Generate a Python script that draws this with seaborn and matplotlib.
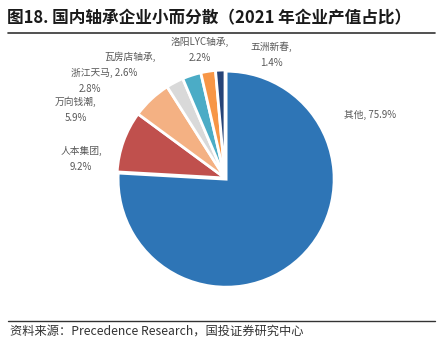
import matplotlib
matplotlib.use("Agg")
import matplotlib.pyplot as plt
import seaborn as sns

# data
companies = ["其他", "人本集团", "万向钱潮", "浙江天马", "瓦房店轴承", "洛阳LYC轴承", "五洲新春"]
shares = [75.9, 9.2, 5.9, 2.6, 2.8, 2.2, 1.4]
colors = ["#2E75B6", "#C0504D", "#F4B183", "#D9D9D9", "#4BACC6", "#F79646", "#264478"]

# label text as it appears (wrapped like the original)
label_texts = ["其他, 75.9%", "人本集团,\n9.2%", "万向钱潮,\n5.9%", "浙江天马, 2.6%",
               "瓦房店轴承,", "洛阳LYC轴承,\n2.2%", "五洲新春,\n1.4%"]
extra_texts = ["2.8%"]

sns.set_theme(style="white")
plt.rcParams["font.family"] = ["Noto Sans CJK SC", "DejaVu Sans"]

W, H = 445, 352
fig = plt.figure(figsize=(W / 100, H / 100), dpi=100)

cx, cy, r = 225, 178, 108
ax = fig.add_axes([(cx - r) / W, (H - cy - r) / H, 2 * r / W, 2 * r / H])
ax.pie(shares, colors=colors, startangle=90, counterclock=False,
       explode=[0.015, 0, 0, 0, 0, 0, 0],
       wedgeprops={"edgecolor": "white", "linewidth": 2})
ax.set_xlim(-1.0, 1.0)
ax.set_ylim(-1.0, 1.0)
ax.axis("off")

grey = "#595959"
pos = {
    "其他": (370, 115),
    "人本集团": (81, 159),
    "万向钱潮": (76, 110),
    "浙江天马": (104, 73),
    "瓦房店轴承": (130, 57),
    "洛阳LYC轴承": (200, 50),
    "五洲新春": (271, 55),
}
for name, txt in zip(companies, label_texts):
    x, y = pos[name]
    fig.text(x / W, 1 - y / H, txt, ha="center", va="center", fontsize=7,
             color=grey, linespacing=1.75)
fig.text(90 / W, 1 - 89 / H, extra_texts[0], ha="center", va="center",
         fontsize=7, color=grey)

# title and rules
fig.text(7 / W, 1 - 18 / H, "图18. 国内轴承企业小而分散（2021 年企业产值占比）",
         ha="left", va="center", fontsize=12, fontweight="semibold", color="#1a1a1a")
fig.add_artist(plt.Line2D([8 / W, 435 / W], [1 - 33 / H, 1 - 33 / H],
                          color="#333333", linewidth=1.2))
fig.add_artist(plt.Line2D([8 / W, 435 / W], [1 - 321 / H, 1 - 321 / H],
                          color="#333333", linewidth=1.0))
fig.text(10 / W, 1 - 331 / H, "资料来源：Precedence Research，国投证券研究中心",
         ha="left", va="center", fontsize=8.8, style="italic", color="#333333")

fig.savefig("out.png", dpi=100)
